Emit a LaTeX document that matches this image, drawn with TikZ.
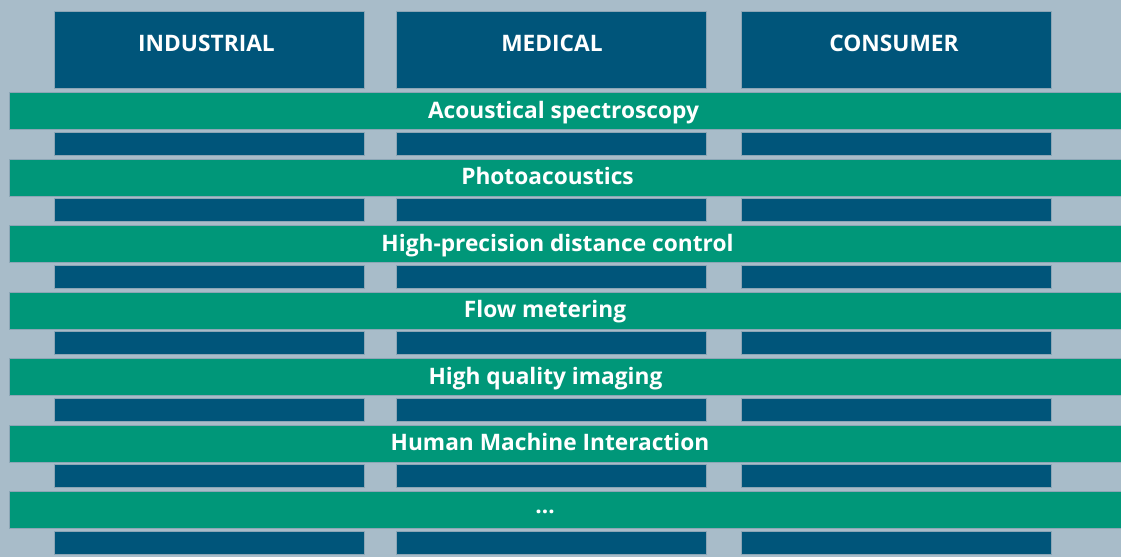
\documentclass[tikz,border=0pt]{standalone}
\usepackage{fontspec}
\setmainfont{Open Sans}
\definecolor{bgcol}{RGB}{168,188,201}
\definecolor{navy}{RGB}{0,85,122}
\definecolor{teal}{RGB}{0,151,121}
\definecolor{edgecol}{RGB}{140,166,182}
\tikzset{
  header/.style={fill=navy, draw=edgecol, line width=0.6pt, anchor=north west,
    minimum width=310pt, minimum height=77pt, inner sep=0pt},
  band/.style={fill=teal, draw=edgecol, line width=0.6pt, anchor=north west,
    minimum width=1130pt, minimum height=37pt, inner sep=0pt},
  stripe/.style={fill=navy, draw=edgecol, line width=0.6pt, anchor=north west,
    minimum width=310pt, minimum height=23pt, inner sep=0pt},
  label/.style={text=white, anchor=base, inner sep=0pt,
    font=\fontsize{22.7}{26}\selectfont\bfseries}
}
\begin{document}
\begin{tikzpicture}[x=1pt,y=-1pt]
  \fill[bgcol] (0,0) rectangle (1121,557);
  \useasboundingbox (0,0) rectangle (1121,557);
  \clip (0,0) rectangle (1121,557);
  % column headers
  \node[header] (hind) at (54,11) {};
  \node[header] (hmed) at (396,11) {};
  \node[header] (hcon) at (741,11) {};
  \node[label] (tind) at (206.5,51) {INDUSTRIAL};
  \node[label] (tmed) at (552,51) {MEDICAL};
  \node[label] (tcon) at (894,51) {CONSUMER};
  % column segments between the bands
  \foreach \i in {0,1,2,3,4,5,6} {
    \node[stripe] (s1-\i) at (54,131.5+66.5*\i) {};
    \node[stripe] (s2-\i) at (396,131.5+66.5*\i) {};
    \node[stripe] (s3-\i) at (741,131.5+66.5*\i) {};
  }
  % application bands
  \foreach \i in {0,1,2,3,4,5,6} {
    \node[band] (b\i) at (9,92+66.5*\i) {};
  }
  \node[label] (l0) at (563.5,118) {Acoustical spectroscopy};
  \node[label] (l1) at (547.5,184.5) {Photoacoustics};
  \node[label] (l2) at (557.5,251) {High-precision distance control};
  \node[label] (l3) at (545,317.5) {Flow metering};
  \node[label] (l4) at (545.5,384) {High quality imaging};
  \node[label] (l5) at (550,450.5) {Human Machine Interaction};
  \node[label] (l6) at (545,513) {\textellipsis};
\end{tikzpicture}
\end{document}
